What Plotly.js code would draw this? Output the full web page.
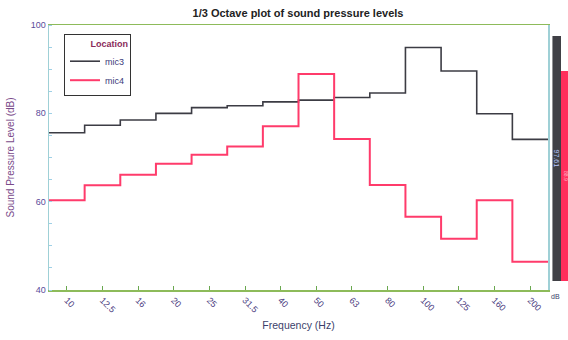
<!DOCTYPE html>
<html><head><meta charset="utf-8">
<script src="https://cdn.plot.ly/plotly-3.0.1.min.js"></script>
<style>html,body{margin:0;padding:0;background:#fff}</style>
</head><body><div id="chart" style="width:568px;height:340px"></div>
<script>
const bands = ["10","12.5","16","20","25","31.5","40","50","63","80","100","125","160","200"];
const mic3 = [75.6,77.3,78.5,80.0,81.3,81.7,82.6,83.0,83.6,84.6,94.9,89.6,79.9,74.1];
const mic4 = [60.3,63.7,66.1,68.6,70.6,72.5,77.1,88.9,74.2,63.8,56.6,51.6,60.3,46.4];
const meterLabels = ["97.61","88.9"];
const meterValues = [97.61,89.6];

// step edges: each band spans its category +/- half a slot
function edges(vals){ const xs=[], ys=[]; vals.forEach((v,i)=>{xs.push(i-0.5); ys.push(v);}); xs.push(vals.length-0.5); ys.push(vals[vals.length-1]); return {xs,ys}; }
const s3 = edges(mic3), s4 = edges(mic4);
const idx = bands.map((b,i)=>i);

const traces = [
 {x:s3.xs,y:s3.ys,type:'scatter',mode:'lines',line:{shape:'hv',color:'#3c3c44',width:1.6},name:'mic3'},
 {x:s4.xs,y:s4.ys,type:'scatter',mode:'lines',line:{shape:'hv',color:'#ff3b6b',width:2},name:'mic4'},
 {x:[0,1],y:meterValues.map(v=>v-42),base:42,type:'bar',xaxis:'x2',yaxis:'y2',width:1,
  marker:{color:['#404046','#ff2f5c'],line:{width:0}},showlegend:false,
  text:meterLabels,textposition:'inside',insidetextanchor:'middle',textangle:90,constraintext:'none',
  textfont:{size:[7,5],color:['#b8c8ff','#ffb3c4'],family:'Arial'},hoverinfo:'skip',cliponaxis:true}
];

const layout = {
 width:568,height:340,
 margin:{l:49,r:0,t:25,b:50,autoexpand:false},
 paper_bgcolor:'#fff',plot_bgcolor:'#fff',
 font:{family:'Liberation Sans, Arial, sans-serif'},
 title:{text:'<b>1/3 Octave plot of sound pressure levels</b>',font:{size:11,color:'#222'},x:298/568,xref:'container',xanchor:'center',y:0.962,yanchor:'middle'},
 xaxis:{domain:[0,0.9615],range:[-0.5,13.5],tickvals:idx,ticktext:bands,tickangle:45,
   ticks:'inside',ticklen:4,tickcolor:'#6aa84f',showgrid:false,zeroline:false,
   showline:true,linecolor:'#8dbb5a',linewidth:1.5,mirror:true,
   tickfont:{size:9,color:'#4b3c80'},
   title:{text:'Frequency (Hz)',font:{size:10.5,color:'#3b3f6b'},standoff:8}},
 yaxis:{range:[40,100],tickvals:[40,60,80,100],ticks:'',showgrid:false,zeroline:false,
   showline:true,linecolor:'#9fd0d6',linewidth:1.5,mirror:true,
   tickfont:{size:9,color:'#5a4a9a'},
   minor:{dtick:5,ticks:'inside',ticklen:3,tickcolor:'#9fd0e6'},
   title:{text:'Sound Pressure Level (dB)',font:{size:10,color:'#7a4a8a'},standoff:14}},
 xaxis2:{domain:[0.970,1],range:[-0.5,1.25],anchor:'y2',showticklabels:false,showgrid:false,zeroline:false,showline:false,ticks:''},
 yaxis2:{domain:[0,1],range:[40,100],anchor:'x2',showticklabels:false,showgrid:false,zeroline:false,showline:false,ticks:''},
 bargap:0,
 showlegend:true,
 legend:{x:(64-49)/519,xref:'paper',y:(290-34)/265,yref:'paper',xanchor:'left',yanchor:'top',
   bgcolor:'#fff',bordercolor:'#333',borderwidth:1,font:{size:9,color:'#3b3a7a'},
   title:{text:'<b>Location</b>',font:{size:9,color:'#8a2a5a'},side:'top right'},
   itemwidth:30,tracegroupgap:0},
 annotations:[{text:'dB',x:(555-49)/519,xref:'paper',y:-0.005,yref:'paper',xanchor:'center',yanchor:'top',showarrow:false,font:{size:7,color:'#3b3f6b'}}]
};
Plotly.newPlot('chart',traces,layout,{displayModeBar:false,staticPlot:true});
</script></body></html>
